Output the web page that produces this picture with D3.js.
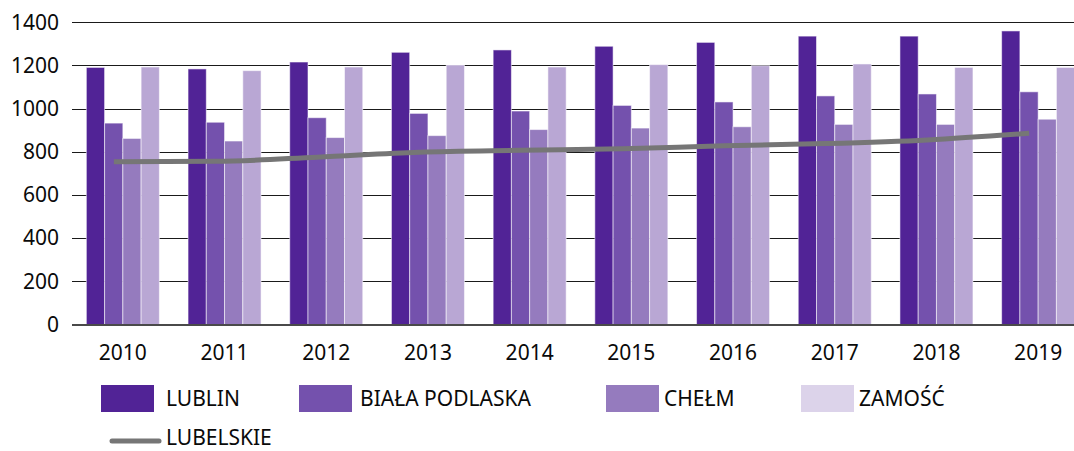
<!DOCTYPE html>
<html>
<head>
<meta charset="utf-8">
<script src="https://cdn.jsdelivr.net/npm/d3@7"></script>
<style>
  html, body { margin: 0; padding: 0; background: #fff; }
  svg { display: block; font-family: "Noto Sans", "Open Sans", sans-serif; }
</style>
</head>
<body>
<svg id="chart" width="1074" height="451"></svg>
<script>
// Years on the category axis
const years = ["2010", "2011", "2012", "2013", "2014", "2015", "2016", "2017", "2018", "2019"];

// Bar series (one value per year)
const lublin        = [1191, 1184, 1216, 1261, 1272, 1289, 1307, 1336, 1336, 1360];
const bialaPodlaska = [933, 937, 958, 978, 989, 1015, 1031, 1059, 1068, 1078];
const chelm         = [862, 850, 866, 875, 903, 910, 916, 927, 927, 951];
const zamosc        = [1193, 1176, 1193, 1202, 1193, 1204, 1199, 1207, 1191, 1191];

// Line series for the whole voivodeship
const lubelskie     = [754, 756, 775, 798, 807, 814, 828, 838, 855, 886];

const seriesNames  = ["LUBLIN", "BIAŁA PODLASKA", "CHEŁM", "ZAMOŚĆ"];
const lineName     = "LUBELSKIE";
const yTicks       = [0, 200, 400, 600, 800, 1000, 1200, 1400];

const barColors    = ["#512396", "#7451ad", "#957bbe", "#b9a7d4"];
const swatchColors = ["#512396", "#7451ad", "#957bbe", "#dcd3ea"];
const lineColor    = "#767676";
const textColor    = "#0a0a0a";

const svg = d3.select("#chart");

const plot = { left: 72, right: 1089, top: 22.3, bottom: 324.5 };

const x = d3.scaleBand()
  .domain(years)
  .range([plot.left, plot.right])
  .paddingInner(0.282)
  .paddingOuter(0.141);

const xSub = d3.scaleBand()
  .domain(d3.range(seriesNames.length))
  .range([0, x.bandwidth()]);

const y = d3.scaleLinear()
  .domain([0, 1400])
  .range([plot.bottom, plot.top]);

// Horizontal gridlines
svg.append("g")
  .selectAll("line")
  .data(yTicks.filter(d => d > 0))
  .join("line")
  .attr("x1", plot.left)
  .attr("x2", 1074)
  .attr("y1", d => Math.round(y(d)) + 0.5)
  .attr("y2", d => Math.round(y(d)) + 0.5)
  .attr("stroke", "#1a1a1a")
  .attr("stroke-width", 1);

// Y axis labels
const yAxis = d3.axisLeft(y).tickValues(yTicks).tickFormat(d3.format("d")).tickSize(0).tickPadding(0);
svg.append("g")
  .attr("transform", `translate(59,0)`)
  .call(yAxis)
  .call(g => g.select(".domain").remove())
  .call(g => g.selectAll("text")
    .attr("font-size", 21)
    .attr("font-family", "'Noto Sans', sans-serif")
    .attr("fill", textColor));

// Grouped bars
const allSeries = [lublin, bialaPodlaska, chelm, zamosc];
const groups = svg.append("g")
  .selectAll("g")
  .data(years)
  .join("g")
  .attr("transform", d => `translate(${x(d)},0)`);

groups.selectAll("rect")
  .data((yr, i) => allSeries.map((s, k) => ({ k, v: s[i] })))
  .join("rect")
  .attr("x", d => xSub(d.k))
  .attr("width", xSub.bandwidth())
  .attr("y", d => y(d.v))
  .attr("height", d => y(0) - y(d.v))
  .attr("fill", d => barColors[d.k])
  .attr("stroke", "rgba(255,255,255,0.55)")
  .attr("stroke-width", 1);

// Baseline
svg.append("line")
  .attr("x1", plot.left)
  .attr("x2", 1074)
  .attr("y1", y(0) + 0.5)
  .attr("y2", y(0) + 0.5)
  .attr("stroke", "#4a4a4a")
  .attr("stroke-width", 2);

// X axis labels
const xAxis = d3.axisBottom(x).tickSize(0).tickPadding(0);
svg.append("g")
  .attr("transform", `translate(0,${y(0) + 21})`)
  .call(xAxis)
  .call(g => g.select(".domain").remove())
  .call(g => g.selectAll("text")
    .attr("font-size", 21)
    .attr("font-family", "'Noto Sans', sans-serif")
    .attr("fill", textColor));

// Voivodeship line
const lineOffset = -9;
const line = d3.line()
  .x((d, i) => x(years[i]) + x.bandwidth() / 2 + lineOffset)
  .y(d => y(d))
  .curve(d3.curveMonotoneX);

svg.append("path")
  .datum(lubelskie)
  .attr("d", line)
  .attr("fill", "none")
  .attr("stroke", lineColor)
  .attr("stroke-width", 5);

// Legend
const legend = svg.append("g").attr("font-size", 21).attr("fill", textColor);
const swatchX = [101, 299, 606, 801];
const labelX  = [166, 360, 664, 859];
seriesNames.forEach((name, k) => {
  legend.append("rect")
    .attr("x", swatchX[k]).attr("y", 385)
    .attr("width", 53).attr("height", 27)
    .attr("fill", swatchColors[k]);
  legend.append("text")
    .attr("x", labelX[k]).attr("y", 405.5)
    .text(name);
});
legend.append("line")
  .attr("x1", 112).attr("x2", 159)
  .attr("y1", 441).attr("y2", 441)
  .attr("stroke", lineColor)
  .attr("stroke-width", 5)
  .attr("stroke-linecap", "round");
legend.append("text")
  .attr("x", 166).attr("y", 445)
  .text(lineName);
</script>
</body>
</html>
